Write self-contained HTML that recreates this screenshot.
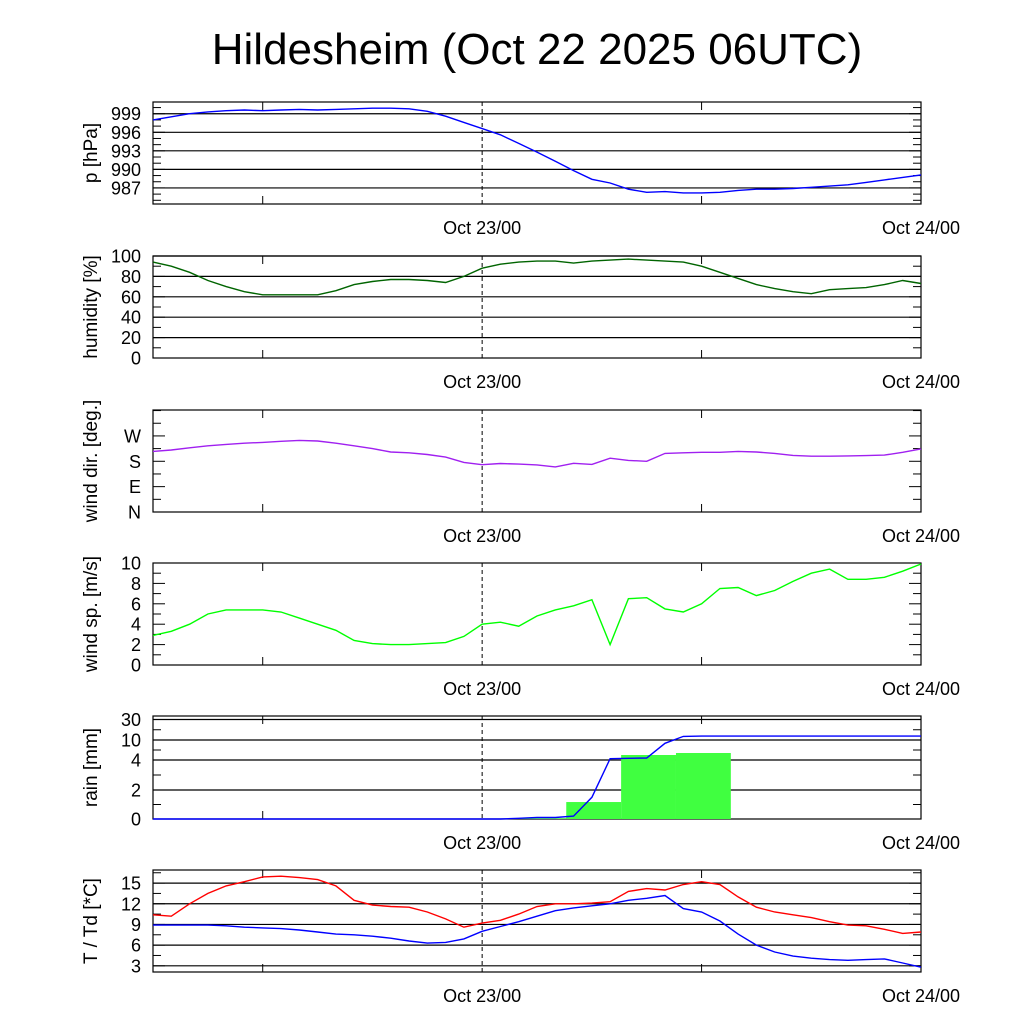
<!DOCTYPE html>
<html><head><meta charset="utf-8"><style>
body{margin:0;background:#fff}
svg{display:block;font-family:"Liberation Sans",sans-serif}
</style></head><body>
<svg id="c" width="1024" height="1024">
<text x="537" y="64" font-size="44" text-anchor="middle">Hildesheim (Oct 22 2025 06UTC)</text>
</svg>
<script>
// hours from Oct 22 06UTC, hourly
const hours = Array.from({length:43},(_, i)=>i);
const pressure = [998.0,998.5,999.0,999.3,999.5,999.6,999.5,999.6,999.7,999.6,999.7,999.8,999.9,999.9,999.8,999.4,998.6,997.6,996.6,995.6,994.2,992.8,991.3,989.8,988.4,987.8,986.8,986.3,986.4,986.2,986.2,986.3,986.6,986.8,986.8,986.9,987.1,987.3,987.5,987.9,988.3,988.7,989.1];
const humidity = [94,90,84,76,70,65,62,62,62,62,66,72,75,77,77,76,74,80,88,92,94,95,95,93,95,96,97,96,95,94,90,84,78,72,68,65,63,67,68,69,72,76,73];
const windDir = [215,220,228,235,240,244,247,251,254,252,244,235,225,213,210,204,195,176,168,172,170,167,160,173,169,191,183,180,208,210,212,212,215,213,208,201,198,198,199,200,202,212,224];
const windSpeed = [2.9,3.3,4.0,5.0,5.4,5.4,5.4,5.2,4.6,4.0,3.4,2.4,2.1,2.0,2.0,2.1,2.2,2.8,4.0,4.2,3.8,4.8,5.4,5.8,6.4,2.0,6.5,6.6,5.5,5.2,6.0,7.5,7.6,6.8,7.3,8.2,9.0,9.4,8.4,8.4,8.6,9.2,9.9];
const rainCum = [0,0,0,0,0,0,0,0,0,0,0,0,0,0,0,0,0,0,0,0,0.05,0.1,0.1,0.2,1.5,4.4,4.5,4.6,9,13.5,13.8,13.8,13.8,13.8,13.8,13.8,13.8,13.8,13.8,13.8,13.8,13.8,13.8];
const rainBarStart = [19.6,22.6,25.6,28.6];
const rainBarValue = [0.05,1.17,5.5,6.1];
const temp = [10.4,10.2,12.0,13.5,14.6,15.2,15.9,16.0,15.8,15.5,14.6,12.5,11.8,11.6,11.5,10.8,9.8,8.6,9.2,9.6,10.5,11.6,12.0,12.0,12.1,12.3,13.8,14.2,14.0,14.8,15.2,14.8,13.0,11.5,10.8,10.4,10.0,9.4,8.9,8.8,8.3,7.7,7.9];
const dewpoint = [8.9,8.9,8.9,8.9,8.8,8.6,8.5,8.4,8.2,7.9,7.6,7.5,7.3,7.0,6.6,6.3,6.4,6.9,8.0,8.7,9.4,10.2,11.0,11.4,11.7,12.0,12.5,12.8,13.2,11.3,10.8,9.5,7.6,6.0,5.0,4.4,4.1,3.9,3.8,3.9,4.0,3.4,2.8];

const svg=document.getElementById('c');const NS='http://www.w3.org/2000/svg';
function mk(t,a,p){const e=document.createElementNS(NS,t);for(const k in a)e.setAttribute(k,a[k]);(p||svg).appendChild(e);return e;}
const X0=153,X1=921;
function xs(t){return X0+t*(X1-X0)/42;}
function lin(d0,d1,top,bot){return v=>bot-(v-d0)/(d1-d0)*(bot-top);}
function pw(dom,rng){return v=>{for(let i=0;i<dom.length-1;i++){if(v<=dom[i+1]||i==dom.length-2){return rng[i]+(v-dom[i])/(dom[i+1]-dom[i])*(rng[i+1]-rng[i]);}}};}

function panel(name,top,bot,label,ticks,grid,minor,ys){
  const g=mk('g',{});
  
  
  grid.forEach(v=>{const y=ys(v);const l=mk('line',{x1:X0,x2:X1,y1:y,y2:y,stroke:'#000','stroke-width':1.2},g);});
  minor.forEach(v=>{const y=ys(v);mk('line',{x1:X0,x2:X0+8,y1:y,y2:y,stroke:'#000'},g);mk('line',{x1:X1-8,x2:X1,y1:y,y2:y,stroke:'#000'},g);});
  ticks.forEach(([v,s])=>{const y=ys(v);mk('line',{x1:X0,x2:X0+12,y1:y,y2:y,stroke:'#000'},g);mk('line',{x1:X1-12,x2:X1,y1:y,y2:y,stroke:'#000'},g);
    const t=mk('text',{x:X0-12,y:y+6.5,'font-size':18,'text-anchor':'end'},g);t.textContent=s;});
  [6,30].forEach(h=>{const x=xs(h);mk('line',{x1:x,x2:x,y1:bot,y2:bot-8,stroke:'#000'},g);mk('line',{x1:x,x2:x,y1:top,y2:top+8,stroke:'#000'},g);});
  mk('line',{x1:xs(18),x2:xs(18),y1:top,y2:bot,stroke:'#000','stroke-dasharray':'4,3'},g);
  mk('rect',{x:X0,y:top,width:X1-X0,height:bot-top,fill:'none',stroke:'#000','stroke-width':1.2},g);
  [['Oct 23/00',18],['Oct 24/00',42]].forEach(([s,h])=>{const t=mk('text',{x:xs(h),y:bot+30,'font-size':18,'text-anchor':'middle'},g);t.textContent=s;});
  const cy=(top+bot)/2;const t=mk('text',{x:0,y:0,'font-size':19,'text-anchor':'middle',transform:`translate(97,${cy}) rotate(-90)`},g);t.textContent=label;
  
  return g;
}
function line(g,arr,ys,color,name){const d=arr.map((v,i)=>(i?'L':'M')+xs(hours[i]).toFixed(1)+','+ys(v).toFixed(1)).join('');
  const p=mk('path',{d:d,fill:'none',stroke:color,'stroke-width':1.4},g);}

// pressure
let ys=lin(984.4,1000.9,102,204);
let g=panel('pressure',102,204,'p [hPa]',[999,996,993,990,987].map(v=>[v,v]),[999,996,993,990,987],[985,986,988,989,991,992,994,995,997,998,1000],ys);
line(g,pressure,ys,'#0000ff','pressure-line');
// humidity
ys=lin(0,100,256,358);
g=panel('humidity',256,358,'humidity [%]',[0,20,40,60,80,100].map(v=>[v,v]),[20,40,60,80,100],[10,30,50,70,90],ys);
line(g,humidity,ys,'#006400','humidity-line');
// wind dir
ys=lin(0,362,410,512);
g=panel('wind-dir',410,512,'wind dir. [deg.]',[[0,'N'],[90,'E'],[180,'S'],[270,'W']],[],[45,135,225,315,360],ys);
line(g,windDir,ys,'#a020f0','wind-direction-line');
// wind speed
ys=lin(0,10,563,665);
g=panel('wind-speed',563,665,'wind sp. [m/s]',[0,2,4,6,8,10].map(v=>[v,v]),[],[1,3,5,7,9],ys);
line(g,windSpeed,ys,'#00ff00','wind-speed-line');
// rain
ys=pw([0,2,4,10,30],[819,790,760,740,719.5]);
g=panel('rain',716,819,'rain [mm]',[[0,0],[2,2],[4,4],[10,10],[30,30]],[2,4,10,30],[1,3,7,20],ys);
rainBarStart.forEach((s,i)=>{const y=ys(rainBarValue[i]);const r=mk('rect',{x:xs(s),y:y,width:xs(s+3)-xs(s),height:819-y,fill:'#40ff40'},g);
  });
line(g,rainCum,ys,'#0000ff','rain-cumulative-line');
// temperature
ys=lin(2.1,16.9,870,972);
g=panel('temperature',870,972,'T / Td [*C]',[3,6,9,12,15].map(v=>[v,v]),[3,6,9,12,15],[4.5,7.5,10.5,13.5,16.5],ys);
line(g,temp,ys,'#ff0000','temperature-line');
line(g,dewpoint,ys,'#0000ff','dewpoint-line');
</script>
</body></html>
